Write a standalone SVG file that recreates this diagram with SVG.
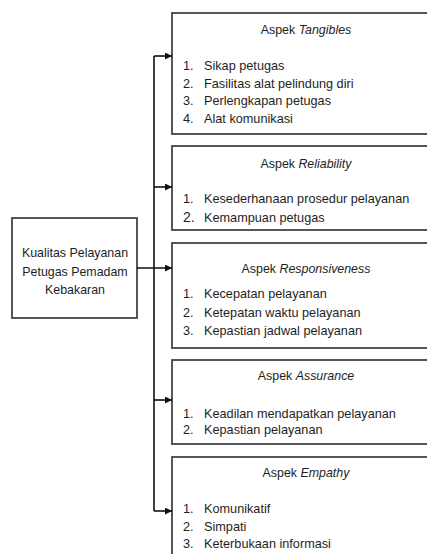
<svg xmlns="http://www.w3.org/2000/svg" width="427" height="554" viewBox="0 0 427 554">
<style>
text{font-family:"Liberation Sans",Arial,sans-serif;font-size:12.7px;fill:#1e1e1e}
.box{fill:#fff;stroke:#3a3a3a;stroke-width:1.7}
.t{text-anchor:middle;font-size:12.4px}
.m{text-anchor:middle;font-size:12.4px}
.c{fill:none;stroke:#111;stroke-width:1.6}
</style>
<defs>
<marker id="ah" markerUnits="userSpaceOnUse" markerWidth="8" markerHeight="8" refX="7" refY="3.5" orient="auto">
<path d="M0,0 L7,3.5 L0,7 z" fill="#111"/>
</marker>
</defs>
<rect width="427" height="554" fill="#fff"/>
<g id="main">
<rect class="box" x="12" y="218" width="125" height="100"/>
<text class="m" x="75" y="257">Kualitas Pelayanan</text>
<text class="m" x="75" y="276">Petugas Pemadam</text>
<text class="m" x="75" y="294">Kebakaran</text>
</g>
<g id="tangibles">
<rect class="box" x="172" y="13" width="262" height="121"/>
<text class="t" x="306" y="34">Aspek <tspan font-style="italic">Tangibles</tspan></text>
<text x="183" y="70">1.</text><text x="204" y="70">Sikap petugas</text>
<text x="183" y="88">2.</text><text x="204" y="88">Fasilitas alat pelindung diri</text>
<text x="183" y="105">3.</text><text x="204" y="105">Perlengkapan petugas</text>
<text x="183" y="123">4.</text><text x="204" y="123">Alat komunikasi</text>
</g>
<g id="reliability">
<rect class="box" x="172" y="146" width="262" height="84"/>
<text class="t" x="306" y="168">Aspek <tspan font-style="italic">Reliability</tspan></text>
<text x="183" y="203">1.</text><text x="204" y="203">Kesederhanaan prosedur pelayanan</text>
<text x="183" y="222" style="font-size:14px">2.</text><text x="204" y="222">Kemampuan petugas</text>
</g>
<g id="responsiveness">
<rect class="box" x="172" y="243" width="262" height="105"/>
<text class="t" x="306" y="273">Aspek <tspan font-style="italic">Responsiveness</tspan></text>
<text x="183" y="298">1.</text><text x="204" y="298">Kecepatan pelayanan</text>
<text x="183" y="317">2.</text><text x="204" y="317">Ketepatan waktu pelayanan</text>
<text x="183" y="335">3.</text><text x="204" y="335">Kepastian jadwal pelayanan</text>
</g>
<g id="assurance">
<rect class="box" x="172" y="360" width="262" height="84"/>
<text class="t" x="306" y="380">Aspek <tspan font-style="italic">Assurance</tspan></text>
<text x="183" y="418">1.</text><text x="204" y="418">Keadilan mendapatkan pelayanan</text>
<text x="183" y="434">2.</text><text x="204" y="434">Kepastian pelayanan</text>
</g>
<g id="empathy">
<rect class="box" x="172" y="457" width="262" height="110"/>
<text class="t" x="306" y="477">Aspek <tspan font-style="italic">Empathy</tspan></text>
<text x="183" y="513">1.</text><text x="204" y="513">Komunikatif</text>
<text x="183" y="531">2.</text><text x="204" y="531">Simpati</text>
<text x="183" y="548">3.</text><text x="204" y="548">Keterbukaan informasi</text>
</g>
<g id="connectors">
<path class="c" d="M154,56 V511"/>
<path class="c" d="M137,268 H172" marker-end="url(#ah)"/>
<path class="c" d="M154,56 H172" marker-end="url(#ah)"/>
<path class="c" d="M154,187 H172" marker-end="url(#ah)"/>
<path class="c" d="M154,400 H172" marker-end="url(#ah)"/>
<path class="c" d="M154,511 H172" marker-end="url(#ah)"/>
</g>
</svg>
